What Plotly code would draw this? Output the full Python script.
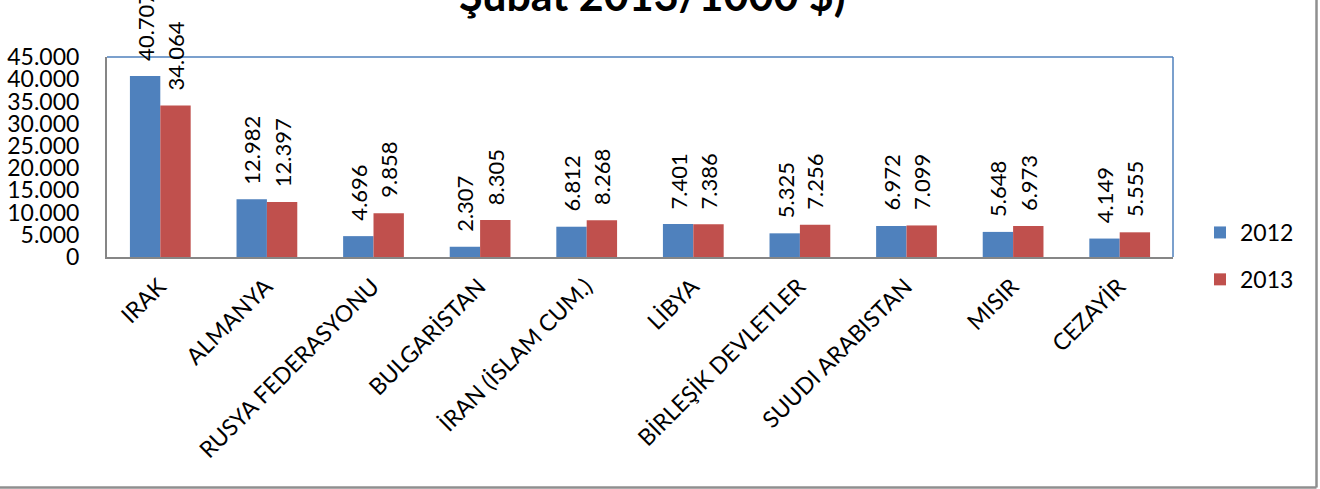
import plotly.graph_objects as go

categories = ["IRAK", "ALMANYA", "RUSYA FEDERASYONU", "BULGARİSTAN", "İRAN (İSLAM CUM.)",
              "LİBYA", "BİRLEŞİK DEVLETLER", "SUUDI ARABISTAN", "MISIR", "CEZAYİR"]
values_2012 = [40707, 12982, 4696, 2307, 6812, 7401, 5325, 6972, 5648, 4149]
values_2013 = [34064, 12397, 9858, 8305, 8268, 7386, 7256, 7099, 6973, 5555]
series_names = ["2012", "2013"]
title_text = "Şubat 2013/1000 $)"

FONT = "Lato"
BLUE = "#4F81BD"
RED = "#C0504D"

def fmt(v):
    return f"{v:,}".replace(",", ".")

fig = go.Figure()
fig.add_trace(go.Bar(name=series_names[0], x=categories, y=values_2012,
                     marker=dict(color=BLUE, line=dict(width=0)), legendgroup="a"))
fig.add_trace(go.Bar(name=series_names[1], x=categories, y=values_2013,
                     marker=dict(color=RED, line=dict(width=0)), legendgroup="b"))

annotations = []
for cat, v in zip(categories, values_2012):
    annotations.append(dict(x=cat, y=v, xref="x", yref="y", text=fmt(v), textangle=-90,
                            showarrow=False, xanchor="center", yanchor="bottom",
                            xshift=-15, yshift=13, font=dict(family=FONT, size=22, color="black")))
for cat, v in zip(categories, values_2013):
    annotations.append(dict(x=cat, y=v, xref="x", yref="y", text=fmt(v), textangle=-90,
                            showarrow=False, xanchor="center", yanchor="bottom",
                            xshift=15, yshift=13, font=dict(family=FONT, size=22, color="black")))
annotations.append(dict(x=0.512, y=1.315, xref="paper", yref="paper", text="<b>" + title_text + "</b>",
                        showarrow=False, xanchor="center", yanchor="middle",
                        font=dict(family=FONT, size=43, color="black")))

L, R, T, B = 107, 1173, 57, 257
W, H = 1320, 489
pw, ph = R - L, B - T

def px_x(p):
    return (p - L) / pw

def px_y(p):
    return (B - p) / ph

shapes = [
    dict(type="line", xref="paper", yref="paper", x0=0, x1=1, y0=1, y1=1,
         line=dict(color=BLUE, width=1.5)),
    dict(type="line", xref="paper", yref="paper", x0=1, x1=1, y0=0, y1=1,
         line=dict(color=BLUE, width=1.5)),
    dict(type="line", xref="paper", yref="paper", x0=px_x(1316.5), x1=px_x(1316.5),
         y0=px_y(-20), y1=px_y(487.5), line=dict(color="#8f8f8f", width=2.5)),
    dict(type="line", xref="paper", yref="paper", x0=px_x(-20), x1=px_x(1316.5),
         y0=px_y(487.5), y1=px_y(487.5), line=dict(color="#8f8f8f", width=2.5)),
]

fig.update_layout(
    width=W, height=H,
    margin=dict(l=L, r=W - R, t=T, b=H - B, pad=0, autoexpand=False),
    paper_bgcolor="white", plot_bgcolor="white",
    barmode="group", bargap=0.43, bargroupgap=0,
    separators=",.",
    font=dict(family=FONT, size=23, color="black"),
    showlegend=True,
    legend=dict(x=px_x(1200), y=px_y(211), xanchor="left", yanchor="top",
                font=dict(family=FONT, size=23, color="black"),
                traceorder="grouped", tracegroupgap=14, bgcolor="rgba(0,0,0,0)"),
    annotations=annotations,
    shapes=shapes,
)
fig.update_xaxes(showline=True, linecolor="#868686", linewidth=2, tickangle=-45,
                 ticks="", showgrid=False, automargin=False,
                 tickfont=dict(family=FONT, size=23, color="black"),
                 ticklabelstandoff=5, ticklabelshift=-1)
fig.update_yaxes(range=[0, 45000], dtick=5000, tickformat=",d", showline=True,
                 linecolor="#868686", linewidth=2, automargin=False,
                 ticks="", showgrid=False, zeroline=False,
                 tickfont=dict(family=FONT, size=23, color="black"), ticklabelstandoff=21)

fig.write_html("out.html", config={"displayModeBar": False},
               post_script="document.body.style.margin='0';document.body.style.padding='0';")
